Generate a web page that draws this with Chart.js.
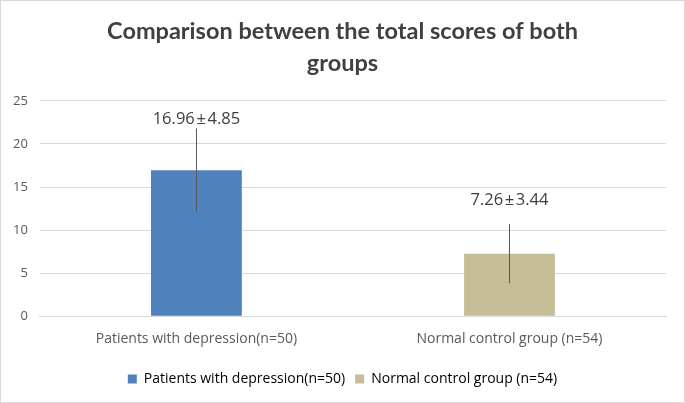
<!DOCTYPE html>
<html>
<head>
<meta charset="utf-8">
<script src="https://cdn.jsdelivr.net/npm/chart.js@4"></script>
<style>
  html, body { margin: 0; padding: 0; background: #fff; }
  #wrap { width: 683px; height: 401px; border: 1px solid #d9d9d9; }
</style>
</head>
<body>
<div id="wrap"><canvas id="myChart" width="683" height="401"></canvas></div>
<script>
const categories = ['Patients with depression(n=50)', 'Normal control group (n=54)'];
const means = [16.96, 7.26];
const sds = [4.85, 3.44];
const yTicks = [0, 5, 10, 15, 20, 25];
const colors = ['#4F81BD', '#C4BD97'];

// error bars + "mean ± sd" labels
const errorBars = {
  id: 'errorBars',
  afterDatasetsDraw(chart) {
    const ctx = chart.ctx;
    const y = chart.scales.y;
    const labelGap = [1, 16]; // the second label sits higher in the original
    chart.getDatasetMeta(0).data.forEach((bar, i) => {
      const top = y.getPixelForValue(means[i] + sds[i]);
      const bottom = y.getPixelForValue(means[i] - sds[i]);
      ctx.save();
      ctx.strokeStyle = '#595959';
      ctx.lineWidth = 1;
      ctx.beginPath();
      ctx.moveTo(Math.round(bar.x) + 0.5, top);
      ctx.lineTo(Math.round(bar.x) + 0.5, bottom);
      ctx.stroke();
      ctx.fillStyle = '#404040';
      ctx.font = '16.5px "Open Sans"';
      ctx.textAlign = 'center';
      ctx.textBaseline = 'bottom';
      ctx.fillText(means[i].toFixed(2) + '\u200a±\u200a' + sds[i].toFixed(2), bar.x, top - labelGap[i]);
      ctx.restore();
    });
  }
};

new Chart(document.getElementById('myChart'), {
  type: 'bar',
  data: {
    labels: categories,
    datasets: [{
      data: means,
      backgroundColor: colors,
      barPercentage: 0.29,
      categoryPercentage: 1
    }]
  },
  options: {
    responsive: false,
    animation: false,
    layout: { padding: { left: 0, right: 0, top: 0, bottom: 6 } },
    plugins: {
      title: {
        display: true,
        text: ['Comparison between the total scores of both', 'groups'],
        color: '#404040',
        font: { family: 'Lato', size: 23.5, weight: 'bold', lineHeight: 1.36 },
        padding: { top: 14, bottom: 22 }
      },
      legend: {
        position: 'bottom',
        labels: {
          color: '#595959',
          font: { family: 'Open Sans', size: 14 },
          boxWidth: 9,
          boxHeight: 9,
          padding: 10,
          generateLabels: () => categories.map((c, i) => ({
            text: c, fillStyle: colors[i], strokeStyle: colors[i], lineWidth: 0
          }))
        }
      },
      tooltip: { enabled: false }
    },
    scales: {
      x: {
        grid: { display: false },
        border: { color: '#d9d9d9' },
        ticks: { color: '#595959', font: { family: 'Open Sans', size: 14 }, padding: 6 },
        afterFit: (s) => { s.height += 9; }
      },
      y: {
        min: 0,
        max: 25,
        afterBuildTicks: (axis) => { axis.ticks = yTicks.map(v => ({ value: v })); },
        grid: { color: '#d9d9d9', drawTicks: false },
        border: { display: false },
        ticks: { color: '#595959', font: { family: 'Open Sans', size: 13 }, padding: 12 }
      },
      // empty right axis, only to keep the plot clear of the right edge
      y2: {
        position: 'right',
        grid: { display: false },
        border: { display: false },
        ticks: { display: false },
        afterFit: (s) => { s.width = 18; }
      }
    }
  },
  plugins: [errorBars]
});
</script>
</body>
</html>
